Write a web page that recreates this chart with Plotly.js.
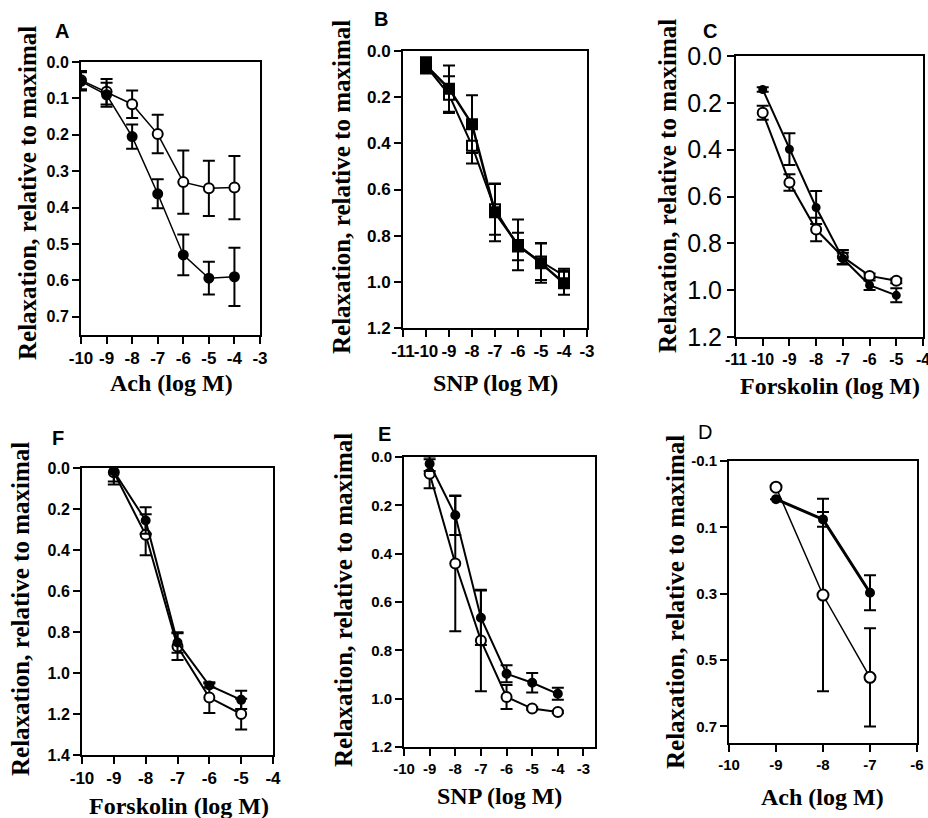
<!DOCTYPE html>
<html>
<head>
<meta charset="utf-8">
<script src="https://cdn.plot.ly/plotly-3.0.1.min.js"></script>
<style>html,body{margin:0;padding:0;background:#fff;}#chart{width:928px;height:818px;}</style>
</head>
<body>
<div id="chart"></div>
<script>
// ---------- DATA ----------
const panelLabels = ["A", "B", "C", "F", "E", "D"];
const xTitles = ["Ach (log M)", "SNP (log M)", "Forskolin (log M)", "Forskolin (log M)", "SNP (log M)", "Ach (log M)"];
const yTitle = "Relaxation, relative to maximal";

// Panel A (Ach)
const xA = [-10, -9, -8, -7, -6, -5, -4];
const aOpen = [0.050, 0.082, 0.116, 0.198, 0.330, 0.347, 0.345];
const aOpenErr = [0.025, 0.035, 0.038, 0.053, 0.087, 0.076, 0.087];
const aFilled = [0.053, 0.090, 0.205, 0.362, 0.530, 0.594, 0.590];
const aFilledErr = [0.025, 0.033, 0.033, 0.040, 0.056, 0.045, 0.080];

// Panel B (SNP)
const xB = [-10, -9, -8, -7, -6, -5, -4];
const bOpen = [0.065, 0.189, 0.410, 0.686, 0.847, 0.912, 0.973];
const bOpenErr = [0.030, 0.080, 0.077, 0.110, 0.060, 0.080, 0.030];
const bFilled = [0.062, 0.163, 0.317, 0.699, 0.840, 0.919, 1.006];
const bFilledErr = [0.035, 0.100, 0.125, 0.125, 0.110, 0.085, 0.050];

// Panel C (Forskolin)
const xC = [-10, -9, -8, -7, -6, -5];
const cOpen = [0.242, 0.540, 0.741, 0.858, 0.939, 0.960];
const cOpenErr = [0.030, 0.035, 0.050, 0.030, 0.010, 0.010];
const cFilled = [0.143, 0.398, 0.647, 0.865, 0.979, 1.022];
const cFilledErr = [0.010, 0.068, 0.070, 0.025, 0.020, 0.030];

// Panel F (Forskolin)
const xF = [-9, -8, -7, -6, -5];
const fOpen = [0.021, 0.326, 0.871, 1.120, 1.200];
const fOpenErr = [0.060, 0.100, 0.065, 0.075, 0.075];
const fFilled = [0.016, 0.256, 0.851, 1.061, 1.131];
const fFilledErr = [0.050, 0.065, 0.050, 0.010, 0.045];

// Panel E (SNP)
const xE = [-9, -8, -7, -6, -5, -4];
const eOpen = [0.069, 0.441, 0.759, 0.993, 1.041, 1.055];
const eOpenErr = [0.060, 0.280, 0.210, 0.050, 0.005, 0.005];
const eFilled = [0.028, 0.241, 0.665, 0.897, 0.934, 0.980];
const eFilledErr = [0.030, 0.082, 0.113, 0.035, 0.040, 0.025];

// Panel D (Ach)
const xD = [-9, -8, -7];
const dOpen = [-0.021, 0.304, 0.552];
const dOpenErr = [0, 0.290, 0.148];
const dFilled = [0.015, 0.076, 0.297];
const dFilledErr = [0, 0.022, 0.053];

// ---------- LAYOUT HELPERS ----------
const W = 928, H = 818;
const SERIF = "Liberation Serif, Times New Roman, serif";
const SANS = "Liberation Sans, Arial, sans-serif";

// pixel boxes [left, right, top, bottom]
const boxes = [
  [81, 260, 62, 335],   // A
  [403, 587, 51, 328],  // B
  [736, 923, 56, 337],  // C
  [82, 273, 468, 755],  // F
  [404, 595, 457, 747], // E
  [729, 917, 461, 743]  // D
];
const panelCfg = [
  {xr: [-10, -3], yr: [0.75, 0], xt: [-10, -9, -8, -7, -6, -5, -4, -3], yt: [0, 0.1, 0.2, 0.3, 0.4, 0.5, 0.6, 0.7], xfs: 17, yfs: 16, ybold: true},
  {xr: [-11, -3], yr: [1.2, 0], xt: [-11, -10, -9, -8, -7, -6, -5, -4, -3], yt: [0, 0.2, 0.4, 0.6, 0.8, 1.0, 1.2], xfs: 17, yfs: 17, ybold: true},
  {xr: [-11, -4], yr: [1.2, 0], xt: [-11, -10, -9, -8, -7, -6, -5, -4], yt: [0, 0.2, 0.4, 0.6, 0.8, 1.0, 1.2], xfs: 16, yfs: 25, ybold: false},
  {xr: [-10, -4], yr: [1.4, 0], xt: [-10, -9, -8, -7, -6, -5, -4], yt: [0, 0.2, 0.4, 0.6, 0.8, 1.0, 1.2, 1.4], xfs: 17, yfs: 16, ybold: true},
  {xr: [-10, -2.55], yr: [1.2, 0], xt: [-10, -9, -8, -7, -6, -5, -4, -3], yt: [0, 0.2, 0.4, 0.6, 0.8, 1.0, 1.2], xfs: 15, yfs: 15, ybold: true},
  {xr: [-10, -6], yr: [0.75, -0.1], xt: [-10, -9, -8, -7, -6], yt: [-0.1, 0.1, 0.3, 0.5, 0.7], xfs: 15, yfs: 15, ybold: true}
];
const xTitlePos = [[171, 383], [495, 383], [830, 386], [179, 806], [499, 796], [822, 797]];
const yTitlePos = [[27, 193], [341, 187], [667, 186], [20, 609], [343, 600], [675, 602]];
const labelPos = [[62, 31], [381, 19], [710, 31], [58, 438], [384, 434], [705, 432]];

const b = s => "<b>" + s + "</b>";

const layout = {
  width: W, height: H,
  margin: {l: 0, r: 0, t: 0, b: 0},
  paper_bgcolor: "#fff", plot_bgcolor: "#fff",
  showlegend: false,
  annotations: []
};

boxes.forEach((bx, i) => {
  const n = i === 0 ? "" : String(i + 1);
  const c = panelCfg[i];
  layout["xaxis" + n] = {
    domain: [bx[0] / W, bx[1] / W], anchor: "y" + n, range: c.xr,
    tickmode: "array", tickvals: c.xt, ticktext: c.xt.map(v => b(String(v))),
    tickangle: 0, ticklabeloverflow: "allow",
    ticks: "outside", ticklen: 7, tickwidth: 2, tickcolor: "#000",
    showline: true, linecolor: "#000", linewidth: 2, mirror: true,
    showgrid: false, zeroline: false,
    tickfont: {family: SANS, size: c.xfs, color: "#000"}
  };
  layout["yaxis" + n] = {
    domain: [1 - bx[3] / H, 1 - bx[2] / H], anchor: "x" + n, range: c.yr,
    tickmode: "array", tickvals: c.yt,
    ticktext: c.yt.map(v => c.ybold ? b(v.toFixed(1)) : v.toFixed(1)),
    ticklabeloverflow: "allow",
    ticks: "outside", ticklen: 7, tickwidth: 2, tickcolor: "#000",
    showline: true, linecolor: "#000", linewidth: 2, mirror: true,
    showgrid: false, zeroline: false,
    tickfont: {family: SANS, size: c.yfs, color: "#000"}
  };
  layout.annotations.push({
    text: b(xTitles[i]), xref: "paper", yref: "paper",
    x: xTitlePos[i][0] / W, y: 1 - xTitlePos[i][1] / H, xanchor: "center", yanchor: "middle",
    showarrow: false, font: {family: SERIF, size: 24, color: "#000"}
  });
  layout.annotations.push({
    text: b(yTitle), xref: "paper", yref: "paper", textangle: -90,
    x: yTitlePos[i][0] / W, y: 1 - yTitlePos[i][1] / H, xanchor: "center", yanchor: "middle",
    showarrow: false, font: {family: SERIF, size: 25, color: "#000"}
  });
  layout.annotations.push({
    text: i === 5 ? panelLabels[i] : b(panelLabels[i]), xref: "paper", yref: "paper",
    x: labelPos[i][0] / W, y: 1 - labelPos[i][1] / H, xanchor: "center", yanchor: "middle",
    showarrow: false, font: {family: SANS, size: 20, color: "#000"}
  });
});

function series(x, y, err, axN, filled, symbol, msize, lw) {
  return {
    x: x, y: y, xaxis: "x" + axN, yaxis: "y" + axN,
    type: "scatter", mode: "lines+markers",
    line: {color: "#000", width: lw},
    marker: {symbol: symbol, size: msize, color: filled ? "#000" : "#fff", line: {color: "#000", width: 2}},
    error_y: {type: "data", array: err, visible: true, color: "#000", thickness: 2, width: 6},
    hoverinfo: "x+y"
  };
}

const data = [
  series(xA, aOpen, aOpenErr, "", false, "circle", 10, 1.5),
  series(xA, aFilled, aFilledErr, "", true, "circle", 9, 1.5),
  series(xB, bOpen, bOpenErr, "2", false, "square", 10, 2),
  series(xB, bFilled, bFilledErr, "2", true, "square", 10, 2.5),
  series(xC, cOpen, cOpenErr, "3", false, "circle", 10, 2),
  series(xC, cFilled, cFilledErr, "3", true, "circle", 7, 2),
  series(xF, fOpen, fOpenErr, "4", false, "circle", 10, 2),
  series(xF, fFilled, fFilledErr, "4", true, "circle", 8, 2),
  series(xE, eOpen, eOpenErr, "5", false, "circle", 10, 2),
  series(xE, eFilled, eFilledErr, "5", true, "circle", 8, 2),
  series(xD, dOpen, dOpenErr, "6", false, "circle", 11, 1.5),
  series(xD, dFilled, dFilledErr, "6", true, "circle", 8, 3)
];

Plotly.newPlot("chart", data, layout, {displayModeBar: false, staticPlot: true});
</script>
</body>
</html>
